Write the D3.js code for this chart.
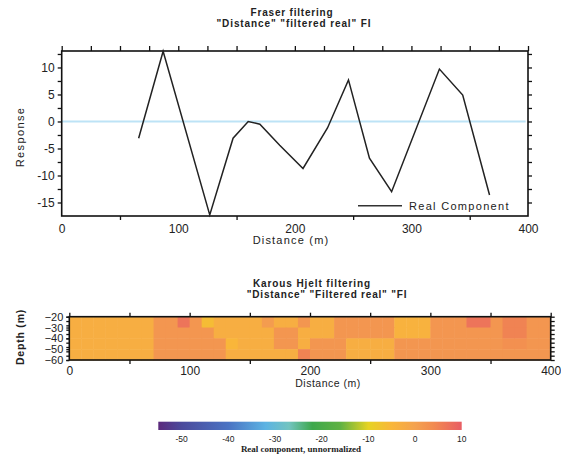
<!DOCTYPE html>
<html><head><meta charset="utf-8">
<script src="https://cdn.jsdelivr.net/npm/d3@7"></script>
<style>
html,body{margin:0;padding:0;background:#fff;}
text{font-family:"Liberation Sans",Arial,sans-serif;fill:#222;}
</style></head>
<body><svg id="c" width="561" height="455"></svg>
<script>
// ---- data ----
const distance = [66, 87, 127, 147, 160, 170, 187, 207, 228, 246, 264, 283, 324, 344, 367];
const realComponent = [-3.1, 13.0, -17.3, -3.1, 0, -0.5, -4.4, -8.7, -1.2, 7.7, -6.8, -13.0, 9.7, 4.9, -13.6];
const xTicksTop = [0, 100, 200, 300, 400];
const yTicksTop = [10, 5, 0, -5, -10, -15];

const heatDist = d3.range(0, 400, 10);          // column start (m)
const heatDepthTop = [-20, -30, -40, -50];       // row top depth (m)
const heatRow1 = [-3,-3,-3,-3,-3,-3,-3, 2, 2, 7, 2,-6,-3,-3,-3,-3, 1,-3,-3, 2,-3,-3, 2, 2, 2, 2, 2,-4,-4,-4, 2, 2, 2, 7, 7, 2, 5, 5, 2, 2];
const heatRow2 = [-3,-3,-3,-3,-3,-3,-3, 2, 2, 2, 2, 2,-3,-3,-3,-3,-3, 2, 2,-3,-3,-3, 2, 2, 2, 2, 2,-4,-4,-4, 2, 2, 2, 2, 2, 2, 5, 5, 2, 2];
const heatRow3 = [-3,-3,-3,-3,-3,-3,-3, 2, 2, 2, 2, 2, 2,-5,-3,-3,-3, 2, 2,-3, 2, 2, 2,-3,-3,-3,-3, 2, 2, 2, 2, 2, 2, 2, 2, 2, 3, 3, 2, 2];
const heatRow4 = [-3,-3,-3,-3,-3,-3,-3, 2, 2, 2, 2, 2, 2,-3,-3,-3,-3,-3,-3, 5, 2, 2, 2,-3,-3,-3,-3, 2, 2, 2, 2, 2, 2, 2, 2, 2, 2, 2, 2, 2];
const heatRows = [heatRow1, heatRow2, heatRow3, heatRow4];
const depthTicks = [-20, -30, -40, -50, -60];
const xTicksBottom = [0, 100, 200, 300, 400];

const paletteValues = [-55, -50, -40, -32, -27, -22, -16, -10, -5, 0, 4, 10];
const paletteColors = ["#5b2a7c","#4b4a9c","#4a73c3","#5cb3e3","#72c4c0","#3ea84c","#5fb243","#e6d323","#f9b63a","#f4a24f","#f28a50","#e85d64"];
const colorbarTicks = [-50, -40, -30, -20, -10, 0, 10];

// ---- drawing ----
const svg = d3.select("#c");
const color = d3.scaleLinear().domain(paletteValues).range(paletteColors);

// ===== Top chart =====
const x1 = d3.scaleLinear().domain([0, 400]).range([61.7, 528]);
const y1 = d3.scaleLinear().domain([-17.5, 13.05]).range([216, 51]);

const g1 = svg.append("g");
g1.append("text").attr("x", 292).attr("y", 16).attr("text-anchor", "middle")
  .style("font-size", "10px").style("font-weight", "bold").style("letter-spacing", "0.8px").text("Fraser filtering");
g1.append("text").attr("x", 294).attr("y", 27).attr("text-anchor", "middle")
  .style("font-size", "10px").style("font-weight", "bold").style("letter-spacing", "0.9px").text('"Distance" "filtered real" FI');

// zero line
g1.append("line").attr("x1", x1(0)).attr("x2", x1(398)).attr("y1", y1(0)).attr("y2", y1(0))
  .attr("stroke", "#bde3f6").attr("stroke-width", 2);

// axes
function styleAxis(sel, fs) {
  sel.select(".domain").remove();
  sel.selectAll(".tick line").attr("stroke", "#111").attr("stroke-width", 1.3);
  sel.selectAll(".tick text").style("font-family", '"Liberation Sans Narrow","Liberation Sans",Arial,sans-serif')
    .style("font-size", fs).attr("fill", "#333");
}
g1.append("g").attr("transform", "translate(0,216)")
  .call(d3.axisBottom(x1).tickValues(d3.range(0, 401, 50)).tickSize(4).tickPadding(4)
    .tickFormat(d => xTicksTop.includes(d) ? d : ""))
  .call(s => styleAxis(s, "12px"))
  .call(s => s.selectAll(".tick").filter(d => xTicksTop.includes(d)).select("line").remove());
g1.append("g").attr("transform", "translate(0,51)")
  .call(d3.axisTop(x1).tickValues(d3.range(0, 401, 25)).tickSize(5).tickFormat(""))
  .call(s => styleAxis(s, "12px"));
g1.append("g").attr("transform", "translate(61.7,0)")
  .call(d3.axisLeft(y1).tickValues(d3.range(-15, 12.6, 2.5)).tickSize(4).tickPadding(3)
    .tickFormat(d => yTicksTop.includes(d) ? d : ""))
  .call(s => styleAxis(s, "12px"));
g1.append("g").attr("transform", "translate(528,0)")
  .call(d3.axisRight(y1).tickValues(d3.range(-15, 12.6, 2.5)).tickSize(4).tickFormat(""))
  .call(s => styleAxis(s, "12px"));

g1.append("rect").attr("x", x1(0)).attr("y", y1(13.05)).attr("width", x1(400) - x1(0)).attr("height", y1(-17.5) - y1(13.05))
  .attr("fill", "none").attr("stroke", "#111").attr("stroke-width", 1.6);

// data line
const pts = distance.map((d, i) => [d, realComponent[i]]);
g1.append("path").datum(pts)
  .attr("d", d3.line().x(d => x1(d[0])).y(d => y1(d[1])))
  .attr("fill", "none").attr("stroke", "#222").attr("stroke-width", 1.5);

// legend
g1.append("line").attr("x1", 358).attr("x2", 402).attr("y1", 205.7).attr("y2", 205.7)
  .attr("stroke", "#333").attr("stroke-width", 1.6);
g1.append("text").attr("x", 409).attr("y", 209.5).style("font-size", "11px").style("letter-spacing", "1.3px").text("Real Component");

g1.append("text").attr("x", 291).attr("y", 244).attr("text-anchor", "middle")
  .style("font-size", "11px").style("letter-spacing", "1.2px").text("Distance (m)");
g1.append("text").attr("transform", "translate(24,137) rotate(-90)").attr("text-anchor", "middle")
  .style("font-size", "11px").style("letter-spacing", "1.4px").text("Response");

// ===== Bottom chart =====
const x2 = d3.scaleLinear().domain([0, 400]).range([69.3, 550.7]);
const y2 = d3.scaleLinear().domain([-20, -60]).range([316.7, 360]);
const g2 = svg.append("g");

g2.append("text").attr("x", 312).attr("y", 287).attr("text-anchor", "middle")
  .style("font-size", "10px").style("font-weight", "bold").style("letter-spacing", "0.9px").text("Karous Hjelt filtering");
g2.append("text").attr("x", 327).attr("y", 298).attr("text-anchor", "middle")
  .style("font-size", "10px").style("font-weight", "bold").style("letter-spacing", "0.8px").text('"Distance" "Filtered real" "FI');

heatRows.forEach((row, r) => {
  g2.selectAll(null).data(row).enter().append("rect")
    .attr("x", (v, c) => x2(heatDist[c]))
    .attr("y", y2(heatDepthTop[r]))
    .attr("width", (v, c) => x2(heatDist[c] + 10) - x2(heatDist[c]) + 0.5)
    .attr("height", y2(heatDepthTop[r] - 10) - y2(heatDepthTop[r]) + 0.5)
    .attr("fill", v => color(v));
});

g2.append("g").attr("transform", "translate(0,360)")
  .call(d3.axisBottom(x2).tickValues(d3.range(0, 401, 50)).tickSize(4).tickPadding(2)
    .tickFormat(d => xTicksBottom.includes(d) ? d : ""))
  .call(s => styleAxis(s, "12px"))
  .call(s => s.selectAll(".tick").filter(d => xTicksBottom.includes(d)).select("line").remove());
g2.append("g").attr("transform", "translate(0,316.7)")
  .call(d3.axisTop(x2).tickValues(d3.range(0, 401, 50)).tickSize(4).tickFormat(""))
  .call(s => styleAxis(s, "12px"));
g2.append("g").attr("transform", "translate(69.3,0)")
  .call(d3.axisLeft(y2).tickValues(d3.range(-60, -19, 4)).tickSize(3).tickFormat(""))
  .call(s => styleAxis(s, "11px"));
const yl = g2.append("g").attr("transform", "translate(69.3,0)")
  .call(d3.axisLeft(y2).tickValues(depthTicks).tickSize(3).tickPadding(3))
  .call(s => styleAxis(s, "11px"));
yl.selectAll(".tick text").attr("fill", d => d <= -50 ? "#bbb" : "#333");
g2.append("g").attr("transform", "translate(550.7,0)")
  .call(d3.axisRight(y2).tickValues(d3.range(-60, -19, 4)).tickSize(4).tickFormat(""))
  .call(s => styleAxis(s, "11px"));

g2.append("rect").attr("x", x2(0)).attr("y", y2(-20)).attr("width", x2(400) - x2(0)).attr("height", y2(-60) - y2(-20))
  .attr("fill", "none").attr("stroke", "#111").attr("stroke-width", 1.6);

g2.append("text").attr("x", 328).attr("y", 387).attr("text-anchor", "middle")
  .style("font-size", "10.5px").style("letter-spacing", "0.5px").text("Distance (m)");
g2.append("text").attr("transform", "translate(24,337) rotate(-90)").attr("text-anchor", "middle")
  .style("font-size", "10.5px").style("font-weight", "bold").style("letter-spacing", "0.8px").text("Depth (m)");

// ===== Colorbar =====
const cx = d3.scaleLinear().domain([-55, 10]).range([158.3, 461.7]);
const defs = svg.append("defs");
const grad = defs.append("linearGradient").attr("id", "cb").attr("x1", "0%").attr("x2", "100%");
paletteValues.forEach((v, i) => {
  grad.append("stop").attr("offset", ((v + 55) / 65 * 100) + "%").attr("stop-color", paletteColors[i]);
});
svg.append("rect").attr("x", cx(-55)).attr("y", 421.7).attr("width", cx(10) - cx(-55)).attr("height", 8.3)
  .attr("fill", "url(#cb)");
svg.append("g").selectAll("text").data(colorbarTicks).enter().append("text")
  .attr("x", d => cx(d)).attr("y", 442).attr("text-anchor", "middle")
  .style("font-size", "8.5px").style("font-family", '"Liberation Sans Narrow","Liberation Sans",Arial,sans-serif')
  .attr("fill", "#333").text(d => d);
svg.append("text").attr("x", 301).attr("y", 452).attr("text-anchor", "middle")
  .style("font-family", '"Liberation Serif","Times New Roman",serif').style("font-size", "9px").style("font-weight", "bold")
  .attr("fill", "#333").text("Real component, unnormalized");
</script></body></html>
